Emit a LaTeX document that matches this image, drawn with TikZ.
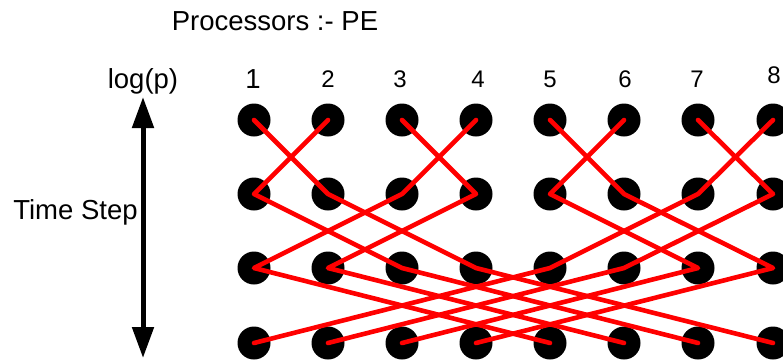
\documentclass[tikz,border=0pt]{standalone}
\usepackage{fontspec}
\setmainfont{Liberation Sans}
\usetikzlibrary{arrows.meta}
\begin{document}
\begin{tikzpicture}[x=1pt,y=-1pt,
  pe/.style={circle,fill=black,minimum size=33pt,inner sep=0pt},
  route/.style={draw=red,line width=4.6pt,line cap=round,line join=round},
  bigtext/.style={font=\fontsize{27.5}{30}\selectfont,anchor=base,inner sep=0pt},
  numtext/.style={font=\fontsize{24}{28}\selectfont,anchor=base,inner sep=0pt},
  axis/.style={line width=5pt,{Triangle[length=31pt,width=21pt]}-{Triangle[length=31pt,width=21pt]}},
]
\useasboundingbox (0,0) rectangle (783,360);
\clip (0,0) rectangle (783,360);

% processing elements: 8 columns, 4 time steps
\foreach \c/\x in {0/254,1/328,2/402,3/476,4/550,5/624,6/698,7/773}
  \foreach \r/\y in {1/120,2/194,3/268,4/343}
    \node[pe] (n\r\c) at (\x,\y) {};

% butterfly exchange routes
\foreach \a/\b/\e/\d in {0/1/3/7,1/0/2/6,2/3/1/5,3/2/0/4,4/5/7/3,5/4/6/2,6/7/5/1,7/6/4/0}
  \draw[route] (n1\a.center) -- (n2\b.center) -- (n3\e.center) -- (n4\d.center);

% column numbers
\node[bigtext] (lab1) at (253,88) {1};
\foreach \k/\x/\y in {2/328/87,3/400/87,4/478/87,5/550/87,6/625/87,7/697/87,8/774/83}
  \node[numtext] (lab\k) at (\x,\y) {\k};

% titles
\node[bigtext] (title) at (275,30) {Processors :- PE};
\node[bigtext] (logp) at (143,88) {log(p)};
\node[bigtext] (tstep) at (75.5,219) {Time Step};

% time axis
\coordinate (axtop) at (143,97);
\coordinate (axbot) at (143,358);
\draw[axis] (axtop) -- (axbot);
\end{tikzpicture}
\end{document}
